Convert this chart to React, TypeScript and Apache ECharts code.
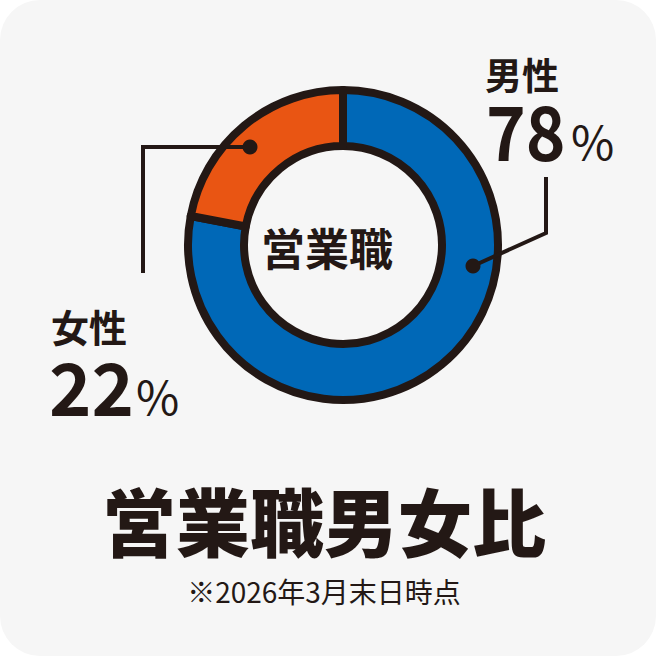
import React, { useEffect, useRef } from 'react';
import * as echarts from 'echarts';

const categories = ['男性', '女性'];
const shares = [78, 22];
const sliceColors = ['#0068b7', '#e95513'];
const centerLabel = '営業職';
const titleText = '営業職男女比';
const noteText = '※2026年3月末日時点';

const INK = '#231815';
const FONT = '"Noto Sans CJK JP", "Noto Sans", sans-serif';

export default function App() {
  const chartRef = useRef<HTMLDivElement>(null);

  useEffect(() => {
    if (!chartRef.current) return;
    const chart = echarts.init(chartRef.current, null, { renderer: 'svg' });

    const txt = (text: string, x: number, y: number, size: number, weight: any, align = 'left', sx = 1) => ({
      type: 'text',
      x,
      y,
      z: 100,
      scaleX: sx,
      style: {
        text,
        fill: INK,
        font: `${weight} ${size}px ${FONT}`,
        lineHeight: Math.round(size * 0.7),
        textAlign: align,
        textVerticalAlign: 'middle',
      },
    });

    const option = {
      animation: false,
      backgroundColor: '#ffffff',
      graphic: [
        { type: 'rect', z: -10, shape: { x: 0, y: 0, width: 656, height: 656, r: 40 }, style: { fill: '#f6f6f6' } },
        // leader lines
        { type: 'polyline', z: 100, shape: { points: [[546, 177], [546, 233], [473, 266]] }, style: { stroke: INK, lineWidth: 4, fill: 'none' } },
        { type: 'circle', z: 100, shape: { cx: 473, cy: 266, r: 7.5 }, style: { fill: INK } },
        { type: 'polyline', z: 100, shape: { points: [[143, 273], [143, 147], [250, 147]] }, style: { stroke: INK, lineWidth: 4, fill: 'none' } },
        { type: 'circle', z: 100, shape: { cx: 250, cy: 147, r: 7.5 }, style: { fill: INK } },
        // male label
        txt(categories[0], 485, 74, 37, 'bold'),
        txt(String(shares[0]), 486, 128, 75, 'bold', 'left', 0.9),
        txt('%', 571, 139, 47, 'normal'),
        // female label
        txt(categories[1], 51, 325, 38, 'bold'),
        txt(String(shares[1]), 49, 384, 72, 'bold'),
        txt('%', 136, 394, 47, 'normal'),
        // center + titles
        txt(centerLabel, 327, 247, 44, 'bold', 'center'),
        txt(titleText, 324, 518, 74, 900, 'center'),
        txt(noteText, 324, 591, 28, 'normal', 'center'),
      ],
      series: [
        {
          type: 'pie',
          center: [343, 245],
          radius: [99, 155],
          startAngle: 90,
          clockwise: true,
          silent: true,
          label: { show: false },
          labelLine: { show: false },
          itemStyle: { borderColor: INK, borderWidth: 8 },
          data: categories.map((name, i) => ({
            name,
            value: shares[i],
            itemStyle: { color: sliceColors[i] },
          })),
        },
      ],
    };
    chart.setOption(option);

    return () => chart.dispose();
  }, []);

  return (
    <div
      ref={chartRef}
      style={{ position: 'absolute', left: 0, top: 0, width: '656px', height: '656px' }}
    />
  );
}
